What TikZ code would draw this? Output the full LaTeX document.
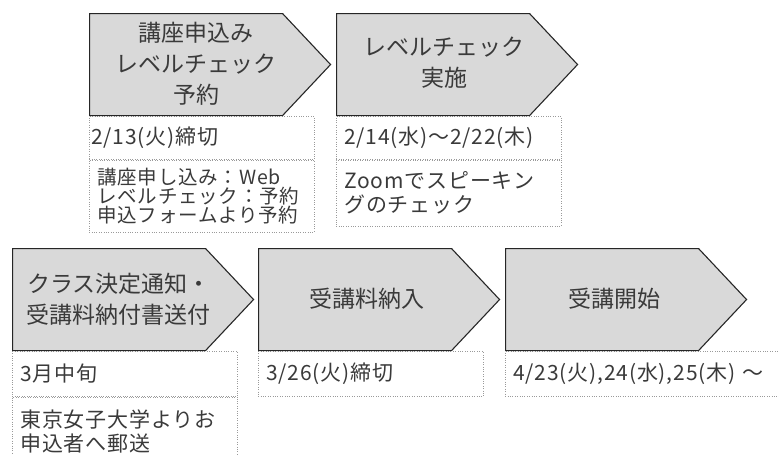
\documentclass[tikz,border=0pt]{standalone}
\usepackage{fontspec}
\usepackage{xcolor}
\usepackage{tikz}
\usetikzlibrary{shapes.symbols}
\usetikzlibrary{positioning}
\newfontfamily\jpfont{Noto Sans CJK JP}
\newfontfamily\jpbody[LetterSpace=4]{Noto Sans CJK JP}
\definecolor{stepgray}{HTML}{D9D9D9}
\definecolor{linegray}{HTML}{262626}
\definecolor{dotgray}{HTML}{9A9A9A}
\definecolor{textgray}{HTML}{3A3A3A}
\pgfdeclarelayer{bg}
\pgfsetlayers{bg,main}
\tikzset{
    step_node/.style = {shape=signal, signal to=east, signal pointer angle=93.5, draw=linegray, fill=stepgray, line width=1.1pt, minimum width=241pt, minimum height=102pt, inner sep=0pt, anchor=north west},
    step_title/.style = {align=center, inner sep=0pt, text=textgray, font=\jpfont\fontsize{23}{31}\selectfont},
    date_box/.style = {rectangle, draw=dotgray, dotted, thin, anchor=north west, minimum width=225pt, minimum height=43pt, inner xsep=8pt, text width=209pt, align=left, text=textgray, font=\jpbody\fontsize{21}{24}\selectfont},
    note_box/.style = {date_box, minimum height=70pt},
    small_note/.style = {note_box, font=\jpbody\fontsize{19.5}{19}\selectfont}
}

\begin{document}
\begin{tikzpicture}[x=1pt, y=-1pt]
    \useasboundingbox (0,0) rectangle (779,455);
    \clip (0,0) rectangle (779,455);

    % top row
    \node [step_node] (apply) at (89,13) {};
    \node [step_node] (check) at (336,13) {};
    % bottom row
    \node [step_node] (notice) at (12,248) {};
    \node [step_node] (payment) at (258,248) {};
    \node [step_node] (start) at (505,248) {};

    \node [step_title] (apply_t) at ([shift={(107,51)}]apply.north west) {講座申込み\\レベルチェック\\予約};
    \node [step_title] (check_t) at ([shift={(108,50)}]check.north west) {レベルチェック\\実施};
    \node [step_title] (notice_t) at ([shift={(107,51)}]notice.north west) {クラス決定通知・\\受講料納付書送付};
    \node [step_title] (payment_t) at ([shift={(109,51)}]payment.north west) {受講料納入};
    \node [step_title] (start_t) at ([shift={(109,51)}]start.north west) {受講開始};

    \begin{pgfonlayer}{bg}
        \node [date_box, inner xsep=2pt, text width=221pt] (apply_d) at (apply.south west) {2/13(火)締切};
        \node [small_note, minimum height=72pt] (apply_n) at (apply_d.south west) {講座申し込み：Web\\レベルチェック：予約\\申込フォームより予約};
        \node [date_box] (check_d) at (check.south west) {2/14(水)～2/22(木)};
        \node [note_box, minimum height=66pt] (check_n) at (check_d.south west) {Zoomでスピーキン\\グのチェック};
        \node [date_box, minimum height=45pt] (notice_d) at (notice.south west) {3月中旬};
        \node [note_box] (notice_n) at (notice_d.south west) {東京女子大学よりお\\申込者へ郵送};
        \node [date_box, minimum height=45pt] (payment_d) at (payment.south west) {3/26(火)締切};
        \node [date_box, minimum height=45pt, minimum width=290pt, text width=274pt] (start_d) at (start.south west) {4/23(火),24(水),25(木) ～};
    \end{pgfonlayer}
\end{tikzpicture}
\end{document}
